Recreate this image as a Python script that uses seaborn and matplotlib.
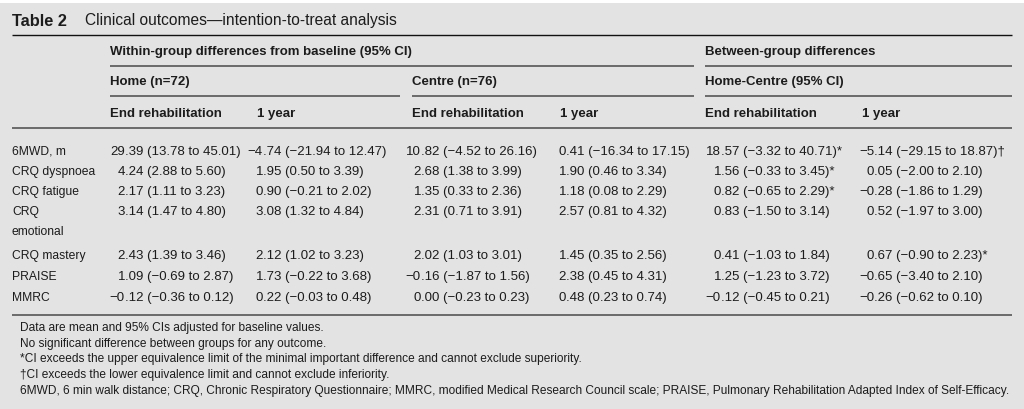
import matplotlib
matplotlib.use('Agg')
import matplotlib.pyplot as plt
import seaborn as sns

# 表格数据
outcomes = ['6MWD, m', 'CRQ dyspnoea', 'CRQ fatigue', 'CRQ\nemotional',
            'CRQ mastery', 'PRAISE', 'MMRC']

home_end_mean = [29.39, 4.24, 2.17, 3.14, 2.43, 1.09, -0.12]
home_end_lo = [13.78, 2.88, 1.11, 1.47, 1.39, -0.69, -0.36]
home_end_hi = [45.01, 5.60, 3.23, 4.80, 3.46, 2.87, 0.12]

home_1y_mean = [-4.74, 1.95, 0.90, 3.08, 2.12, 1.73, 0.22]
home_1y_lo = [-21.94, 0.50, -0.21, 1.32, 1.02, -0.22, -0.03]
home_1y_hi = [12.47, 3.39, 2.02, 4.84, 3.23, 3.68, 0.48]

centre_end_mean = [10.82, 2.68, 1.35, 2.31, 2.02, -0.16, 0.00]
centre_end_lo = [-4.52, 1.38, 0.33, 0.71, 1.03, -1.87, -0.23]
centre_end_hi = [26.16, 3.99, 2.36, 3.91, 3.01, 1.56, 0.23]

centre_1y_mean = [0.41, 1.90, 1.18, 2.57, 1.45, 2.38, 0.48]
centre_1y_lo = [-16.34, 0.46, 0.08, 0.81, 0.35, 0.45, 0.23]
centre_1y_hi = [17.15, 3.34, 2.29, 4.32, 2.56, 4.31, 0.74]

diff_end_mean = [18.57, 1.56, 0.82, 0.83, 0.41, 1.25, -0.12]
diff_end_lo = [-3.32, -0.33, -0.65, -1.50, -1.03, -1.23, -0.45]
diff_end_hi = [40.71, 3.45, 2.29, 3.14, 1.84, 3.72, 0.21]
diff_end_flag = ['*', '*', '*', '', '', '', '']

diff_1y_mean = [-5.14, 0.05, -0.28, 0.52, 0.67, -0.65, -0.26]
diff_1y_lo = [-29.15, -2.00, -1.86, -1.97, -0.90, -3.40, -0.62]
diff_1y_hi = [18.87, 2.10, 1.29, 3.00, 2.23, 2.10, 0.10]
diff_1y_flag = ['\u2020', '', '', '', '*', '', '']

footnotes = [
    'Data are mean and 95% CIs adjusted for baseline values.',
    'No significant difference between groups for any outcome.',
    '*CI exceeds the upper equivalence limit of the minimal important difference and cannot exclude superiority.',
    '\u2020CI exceeds the lower equivalence limit and cannot exclude inferiority.',
    '6MWD, 6 min walk distance; CRQ, Chronic Respiratory Questionnaire; MMRC, modified Medical Research Council scale; '
    'PRAISE, Pulmonary Rehabilitation Adapted Index of Self-Efficacy.',
]

# 样式
sns.set_theme(style='white')
plt.rcParams['font.family'] = ['Liberation Sans', 'DejaVu Sans']

BG = '#e3e3e3'
INK = '#1c1c1c'
RULE = '#6a6a6a'


def fmt(v):
    return f'{v:.2f}'.replace('-', '\u2212')


def cell(m, lo, hi, flag=''):
    return f'{fmt(m)} ({fmt(lo)} to {fmt(hi)}){flag}'


columns = [
    (home_end_mean, home_end_lo, home_end_hi, None),
    (home_1y_mean, home_1y_lo, home_1y_hi, None),
    (centre_end_mean, centre_end_lo, centre_end_hi, None),
    (centre_1y_mean, centre_1y_lo, centre_1y_hi, None),
    (diff_end_mean, diff_end_lo, diff_end_hi, diff_end_flag),
    (diff_1y_mean, diff_1y_lo, diff_1y_hi, diff_1y_flag),
]
dec_x = [125, 263, 421, 566, 721, 874]
row_y = [152, 172, 192, 212, 256, 277, 298]

fig = plt.figure(figsize=(10.24, 4.09), dpi=100, facecolor=BG)
ax = fig.add_axes([0, 0, 1, 1])
ax.set_xlim(0, 1024)
ax.set_ylim(409, 0)
ax.set_facecolor(BG)
ax.axis('off')
ax.axhspan(0, 2.5, color='white', lw=0)

renderer = fig.canvas.get_renderer()


def fit_size(s, target_px, **kw):
    # 按参考图中文字的像素宽度反推字号
    t = ax.text(0, 0, s, fontsize=10, **kw)
    w = t.get_window_extent(renderer).width
    t.remove()
    return 10 * target_px / w


fs_title = fit_size('Clinical outcomes\u2014intention-to-treat analysis', 312)
fs_tab = fit_size('Table 2', 55, fontweight='bold')
fs_head = fit_size('Within-group differences from baseline (95% CI)', 302, fontweight='bold')
fs_label = fit_size('CRQ dyspnoea', 83)
fs_data = fit_size(cell(29.39, 13.78, 45.01), 130)
fs_note = fit_size(footnotes[-1], 988)

# 标题
ax.text(12, 21, 'Table 2', fontsize=fs_tab, fontweight='bold', color=INK, va='center')
ax.text(85, 21, 'Clinical outcomes\u2014intention-to-treat analysis', fontsize=fs_title,
        color=INK, va='center')
ax.hlines(35, 12, 1012, color='#111111', lw=1.0)

# 表头
hb = dict(fontsize=fs_head, fontweight='bold', color=INK, va='center')
ax.text(110, 52, 'Within-group differences from baseline (95% CI)', **hb)
ax.text(705, 52, 'Between-group differences', **hb)
ax.hlines([66, 66], [110, 705], [694, 1012], color=RULE, lw=1.4)
ax.text(110, 82, 'Home (n=72)', **hb)
ax.text(412, 82, 'Centre (n=76)', **hb)
ax.text(705, 82, 'Home-Centre (95% CI)', **hb)
ax.hlines([96, 96, 96], [110, 412, 705], [400, 694, 1012], color=RULE, lw=1.4)
for x_end, x_year in [(110, 257), (412, 560), (705, 862)]:
    ax.text(x_end, 114, 'End rehabilitation', **hb)
    ax.text(x_year, 114, '1 year', **hb)
ax.hlines(128, 12, 1012, color=RULE, lw=1.4)

# 表体
for i, (label, y) in enumerate(zip(outcomes, row_y)):
    for k, part in enumerate(label.split('\n')):
        ax.text(12, y + 20 * k, part, fontsize=fs_label, color=INK, va='center')
    for (means, los, his, flags), xd in zip(columns, dec_x):
        s = cell(means[i], los[i], his[i], flags[i] if flags else '')
        j = s.index('.')
        ax.text(xd, y, s[:j], ha='right', fontsize=fs_data, color=INK, va='center')
        ax.text(xd, y, s[j:], ha='left', fontsize=fs_data, color=INK, va='center')
ax.hlines(315, 12, 1012, color=RULE, lw=1.4)

# 脚注
for y, note in zip([328, 344, 359, 375, 391], footnotes):
    ax.text(20, y, note, fontsize=fs_note, color=INK, va='center')

fig.savefig('out.png', dpi=100, facecolor=BG)
